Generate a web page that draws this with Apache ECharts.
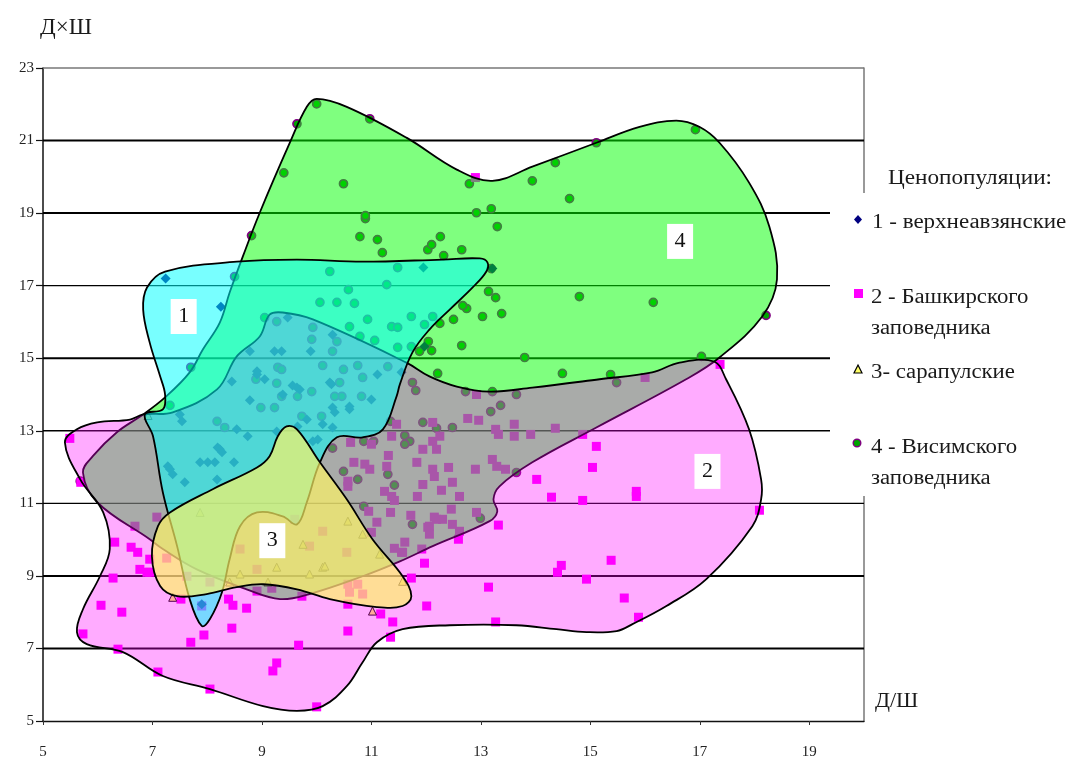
<!DOCTYPE html>
<html><head><meta charset="utf-8">
<style>html,body{margin:0;padding:0;background:#fff}#c{width:1068px;height:760px}</style>
<script src="https://cdn.jsdelivr.net/npm/echarts@6/dist/echarts.min.js"></script>
</head><body><div id="c"></div>
<script>
const xTicks=[5,7,9,11,13,15,17,19];
const yTicks=[5,7,9,11,13,15,17,19,21,23];
const gridLevels=[7,9,11,13,15,17,19,21];
const gridWeights=[2,2,1.3,1.4,2,1.3,2,2];
const diamonds=[[7.24,17.2],[8.25,16.42],[8.45,14.36],[8.78,13.84],[7.5,13.45],[7.54,13.26],[8.54,13.04],[8.74,12.85],[8.19,12.54],[8.27,12.41],[7.87,12.13],[8.01,12.13],[8.14,12.13],[8.49,12.13],[7.28,12.02],[8.78,15.19],[9.23,15.19],[9.36,15.19],[9.47,16.12],[8.91,14.64],[8.91,14.55],[9.05,14.42],[9.56,14.25],[9.69,14.14],[9.38,14.0],[10.24,14.33],[10.29,13.64],[10.33,13.51],[9.82,13.31],[10.11,13.18],[10.29,13.09],[10.02,12.76],[9.27,12.98],[10.29,15.65],[9.89,15.19],[9.65,13.12],[7.32,11.94],[7.37,11.8],[7.59,11.58],[8.18,11.66],[8.23,12.49],[9.64,14.19],[10.27,14.28],[10.6,13.59],[9.93,12.71],[11.95,17.5],[11.11,14.55],[11.55,14.61],[11.0,13.86],[10.6,13.67],[13.21,17.47],[11.97,15.32],[7.9,8.22]];
const squares=[[5.49,12.79],[6.31,9.93],[6.61,9.79],[6.73,9.65],[6.95,9.46],[6.77,9.18],[6.9,9.1],[6.28,8.94],[6.06,8.19],[6.44,8.0],[5.73,7.4],[6.37,6.98],[7.1,6.35],[8.05,5.88],[7.7,7.17],[7.94,7.37],[8.45,7.56],[7.52,8.36],[8.39,8.36],[8.47,8.19],[8.72,8.11],[9.67,7.09],[9.27,6.6],[9.2,6.38],[10,5.39],[10.57,7.48],[10.57,8.22],[11.17,7.95],[11.39,7.73],[11.35,7.31],[12.01,8.17],[11.73,8.94],[11.97,9.35],[9.73,8.44],[8.91,8.58],[9.18,8.66],[5.69,11.58],[7.9,8.17],[7.26,9.49],[6.95,9.1],[7.08,10.62],[8.6,9.74],[8.91,9.18],[9.6,10.56],[7.63,8.99],[8.05,8.83],[10.57,8.77],[10.75,8.77],[10.84,8.5],[10.6,8.55],[10.11,10.23],[10.55,9.65],[9.87,9.82],[6.68,10.37],[15.11,12.57],[14.86,12.9],[15.04,11.99],[14.02,11.66],[14.29,11.17],[14.86,11.08],[15.84,11.19],[15.84,11.33],[18.09,10.81],[13.32,10.4],[12.59,10.01],[14.47,9.29],[14.4,9.1],[15.38,9.43],[14.93,8.91],[13.14,8.69],[15.62,8.39],[15.88,7.86],[13.27,7.73],[12.76,13.34],[12.96,13.29],[13.61,13.18],[13.61,12.85],[13.27,13.04],[13.32,12.9],[13.91,12.9],[14.36,13.07],[16.0,14.47],[12.92,14.0],[17.37,14.83],[12.9,19.98],[12.12,13.23],[12.25,12.85],[12.12,12.71],[11.94,12.49],[12.19,12.49],[11.83,12.13],[12.12,11.94],[12.15,11.74],[12.41,11.99],[12.9,11.94],[13.21,12.21],[13.29,12.02],[13.45,11.94],[12.48,11.58],[11.94,11.52],[12.28,11.36],[11.84,11.19],[12.61,11.19],[12.46,10.84],[11.72,10.67],[12.92,10.75],[12.15,10.62],[12.3,10.56],[12.06,10.37],[12.48,10.42],[12.06,10.15],[12.61,10.23],[11.61,9.93],[11.92,9.74],[11.55,9.65],[11.46,13.18],[11.37,12.85],[10.62,12.68],[11.0,12.63],[11.31,12.32],[10.68,12.13],[10.88,12.08],[10.97,11.94],[11.28,12.02],[10.57,11.61],[10.57,11.47],[11.24,11.33],[11.37,11.19],[11.42,11.08],[10.95,10.78],[11.35,10.75],[11.1,10.48],[12.19,10.56],[12.03,10.34],[11.0,10.2],[11.42,9.76],[11.57,9.65]];
const triangles=[[11.02,8.03],[7.37,8.41],[6.92,13.42],[9.75,9.87],[9.27,9.24],[10.11,9.24],[9.87,9.05],[10.84,10.15],[10.57,10.51],[11.15,9.6],[8.6,9.05],[9.11,8.83],[11.57,8.85],[8.41,8.83],[7.87,10.75],[10.15,9.27]];
const circles=[[9.64,21.46],[10.0,22.01],[10.97,21.6],[9.4,20.11],[10.49,19.81],[10.89,18.85],[10.89,18.93],[10.79,18.35],[11.11,18.27],[11.2,17.91],[12.03,17.99],[8.81,18.38],[8.5,17.25],[10.24,17.39],[11.48,17.5],[11.28,17.03],[10.58,16.89],[10.06,16.54],[10.37,16.54],[10.69,16.51],[10.93,16.07],[10.6,15.87],[11.73,16.15],[11.37,15.87],[11.48,15.85],[11.97,15.93],[11.06,15.49],[11.48,15.3],[11.73,15.32],[9.05,16.12],[9.27,16.01],[7.7,14.75],[9.93,15.85],[9.91,15.52],[10.37,15.46],[10.79,15.6],[12.79,19.81],[13.94,19.89],[14.36,20.39],[15.11,20.94],[16.92,21.3],[14.62,19.4],[12.92,19.01],[13.19,19.12],[13.3,18.63],[12.26,18.35],[12.1,18.13],[12.65,17.99],[12.32,17.83],[13.19,17.47],[13.14,16.84],[13.27,16.67],[12.74,16.37],[12.67,16.45],[12.5,16.07],[13.03,16.15],[13.38,16.23],[14.8,16.7],[16.15,16.54],[18.21,16.18],[12.65,15.35],[12.04,15.46],[12.1,15.21],[11.88,15.19],[12.21,14.58],[13.8,15.02],[14.49,14.58],[15.37,14.55],[15.48,14.33],[17.03,15.05],[13.21,14.08],[12.72,14.08],[13.65,14.0],[13.36,13.7],[13.18,13.53],[11.75,14.33],[11.81,14.11],[12.25,15.96],[12.12,16.15],[10.75,14.8],[11.3,14.77],[10.49,14.69],[10.84,14.47],[10.42,14.33],[10.82,13.95],[10.46,13.95],[10.29,15.19],[9.29,14.75],[9.36,14.69],[10.11,14.8],[8.89,14.42],[9.27,14.31],[9.91,14.08],[9.65,13.95],[9.36,13.95],[8.98,13.64],[9.23,13.64],[9.73,13.4],[10.09,13.4],[10.33,13.95],[8.18,13.26],[8.32,13.09],[7.32,13.7],[11.94,13.23],[10.29,12.52],[10.49,11.88],[10.75,11.66],[11.3,11.8],[11.42,11.5],[11.35,13.26],[10.86,12.71],[11.04,12.71],[11.61,12.87],[11.7,12.71],[11.61,12.63],[12.48,13.09],[12.19,13.07],[10.86,10.92],[11.75,10.42],[12.99,10.59],[13.65,11.85],[5.68,11.61]];
const outline4=[[10.0,22.15],[10.55,21.93],[11.64,21.08],[12.56,20.2],[13.21,19.89],[13.94,20.28],[15.11,20.94],[15.9,21.38],[16.57,21.55],[16.99,21.38],[17.36,20.94],[17.9,19.84],[18.27,18.63],[18.41,17.17],[18.14,16.15],[17.36,15.02],[16.75,14.42],[15.11,13.09],[13.94,12.13],[13.34,11.47],[13.23,11.11],[13.3,10.78],[13.16,10.51],[12.12,9.82],[11.52,9.4],[10.84,8.99],[9.87,8.5],[9.33,8.36],[8.72,8.63],[7.81,9.18],[7.19,9.74],[6.95,10.01],[5.99,11.03],[5.73,11.85],[5.91,12.3],[6.35,12.96],[6.83,13.45],[7.23,13.92],[7.68,14.61],[7.92,15.24],[8.23,15.98],[8.41,16.81],[8.65,17.8],[8.96,19.01],[9.51,20.94],[9.82,21.93]];
const outline2=[[9.38,16.26],[9.93,16.07],[11.64,14.88],[12.06,14.5],[12.56,14.22],[13.16,14.08],[13.94,14.19],[15.17,14.42],[16.13,14.61],[16.63,14.88],[17.26,14.91],[17.48,14.42],[17.9,13.04],[18.12,11.66],[18.12,11.11],[17.96,10.37],[17.12,8.91],[16.39,8.17],[15.77,7.67],[15.48,7.48],[14.93,7.45],[14.38,7.53],[13.65,7.64],[12.43,7.64],[11.57,7.53],[11.1,7.17],[10.84,6.62],[10.55,5.96],[10.11,5.41],[9.64,5.28],[9.02,5.41],[8.05,5.88],[7.19,6.24],[6.46,6.9],[5.8,7.12],[5.62,7.45],[5.73,8.08],[6.04,8.99],[6.22,9.74],[6.1,10.75],[5.68,11.66],[5.4,12.68],[5.62,13.04],[5.99,13.23],[6.59,13.31],[6.83,13.45],[7.37,13.51],[8.18,14.14],[8.54,15.05],[8.96,15.6],[9.14,16.2]];
const outline1=[[6.86,13.45],[7.19,13.59],[7.23,14.0],[7.14,14.5],[6.95,15.43],[6.83,16.34],[6.9,16.95],[7.23,17.39],[8.54,17.66],[9.64,17.72],[10.84,17.66],[12.3,17.72],[12.98,17.75],[13.12,17.64],[13.1,17.39],[12.85,16.95],[12.43,16.34],[12.06,15.79],[11.75,15.16],[11.52,14.28],[11.46,13.95],[11.21,13.04],[10.84,12.82],[10.37,12.82],[10.06,12.13],[9.82,11.03],[9.64,10.42],[9.38,10.64],[8.91,10.75],[8.6,10.37],[8.41,9.46],[8.27,8.55],[8.05,7.81],[7.9,7.62],[7.68,8.36],[7.45,9.82],[7.19,11.3],[7.01,12.85]];
const outline3=[[9.45,13.12],[9.64,13.04],[10.06,12.13],[10.55,11.11],[11.02,10.01],[11.57,8.99],[11.73,8.44],[11.57,8.17],[11.1,8.14],[10.24,8.36],[9.64,8.63],[9.02,8.77],[8.54,8.69],[7.99,8.5],[7.45,8.44],[7.14,8.72],[6.99,9.54],[7.1,10.37],[7.32,10.75],[8.1,11.39],[8.91,11.99],[9.14,12.3],[9.29,12.85]];
const regionTags=[[7.57,16.15,'1'],[17.14,11.88,'2'],[9.19,9.97,'3'],[16.64,18.22,'4']];
const legendTitle='Ценопопуляции:';

const serif='"Liberation Serif","Times New Roman",serif';
function region(name,pts,fill,z){
  return {type:'custom',name,z,silent:true,animation:false,clip:false,data:pts,
    encode:{x:0,y:1},
    renderItem(p,api){
      if(p.dataIndex!==0) return null;
      return {type:'polygon',shape:{points:pts.map(q=>api.coord(q)),smooth:0.38},
        style:{fill,stroke:'#000',lineWidth:1.8}};
    }};
}
function dots(name,data,symbol,symbolSize,color,border,bw){
  return {type:'scatter',name,z:2,silent:true,animation:false,data,symbol,symbolSize,
    itemStyle:{color,borderColor:border,borderWidth:bw,opacity:1}};
}
function txt(x,y,s,size,sx){
  return {type:'text',z:60,x,y,scaleX:sx||1,style:{text:s,fill:'#1a1a1a',font:size+'px '+serif,verticalAlign:'middle'}};
}
const chart=echarts.init(document.getElementById('c'),null,{renderer:'canvas'});
chart.setOption({
  animation:false,
  backgroundColor:'#fff',
  grid:{left:43,right:204,top:68,bottom:37,containLabel:false},
  xAxis:{type:'value',min:5,max:20,splitLine:{show:false},
    axisLine:{show:true,onZero:false,lineStyle:{color:'#111',width:1.3}},
    axisTick:{show:true,length:4,customValues:xTicks,lineStyle:{color:'#333'}},
    axisLabel:{customValues:xTicks,margin:24,color:'#222',fontFamily:serif,fontSize:15}},
  yAxis:[{type:'value',min:5,max:23,splitLine:{show:false},
    axisLine:{show:true,onZero:false,lineStyle:{color:'#111',width:1.5}},
    axisTick:{show:true,length:7,customValues:yTicks,lineStyle:{color:'#111',width:1.2}},
    axisLabel:{customValues:yTicks,margin:9,color:'#222',fontFamily:serif,fontSize:15}},
   {type:'value',min:5,max:23,position:'right',splitLine:{show:false},
    axisLine:{show:true,onZero:false,lineStyle:{color:'#777',width:1.5}},
    axisTick:{show:false},axisLabel:{show:false}}],
  series:[
    {type:'custom',name:'grid',z:1,silent:true,animation:false,clip:false,
     data:gridLevels.map((v,i)=>[v,gridWeights[i]]).concat([[23,1.3]]),encode:{y:0},
     renderItem(p,api){
       const v=api.value(0),w=api.value(1),a=api.coord([5,v]),b=api.coord([20,v]);
       return {type:'line',shape:{x1:a[0],y1:a[1],x2:b[0],y2:b[1]},
         style:{stroke:v===23?'#777':'#000',lineWidth:w}};
     }},
    dots('4 - Висимского заповедника',circles,'circle',8,'#00a400','#800080',1.7),
    dots('2 - Башкирского заповедника',squares,'rect',9,'#ff00ff','#ff00ff',0),
    dots('1 - верхнеавзянские',diamonds,'diamond',10,'#000080','#000080',0),
    dots('3- сарапулские',triangles,'triangle',8,'#ffff66','#000',1),
    region('4',outline4,'rgba(0,255,0,0.5)',3),
    region('2',outline2,'rgba(255,0,255,0.33)',4),
    region('1',outline1,'rgba(0,255,255,0.53)',5),
    region('3',outline3,'rgba(255,245,100,0.68)',6),
    {type:'scatter',name:'tags',z:10,silent:true,animation:false,
     data:regionTags.map(t=>({value:[t[0],t[1]],label:{formatter:t[2]}})),
     symbol:'rect',symbolSize:[26,35],itemStyle:{color:'#fff',opacity:1},
     label:{show:true,position:'inside',color:'#111',fontFamily:serif,fontSize:22}}
  ],
  graphic:[
    {type:'rect',z:50,shape:{x:830,y:193,width:238,height:303},style:{fill:'#fff'}},
    txt(40,28,'Д×Ш',23),
    txt(875,701,'Д/Ш',22),
    txt(888,179,legendTitle,20,1.16),
    {type:'polygon',z:60,shape:{points:[[858,215],[862,219.5],[858,224],[854,219.5]]},style:{fill:'#000080'}},
    txt(872,223,'1 - верхнеавзянские',20,1.15),
    {type:'rect',z:60,shape:{x:854,y:289,width:9,height:9},style:{fill:'#ff00ff'}},
    txt(871,298,'2 - Башкирского',20,1.14),
    txt(871,329,'заповедника',20,1.14),
    {type:'polygon',z:60,shape:{points:[[858,365],[862,373],[854,373]]},style:{fill:'#ffff66',stroke:'#000',lineWidth:1.2}},
    txt(871,373,'3- сарапулские',20,1.14),
    {type:'circle',z:60,shape:{cx:857,cy:443,r:3.8},style:{fill:'#00a400',stroke:'#800080',lineWidth:1.4}},
    txt(871,448,'4 - Висимского',20,1.14),
    txt(871,479,'заповедника',20,1.14)
  ]
});
</script></body></html>
